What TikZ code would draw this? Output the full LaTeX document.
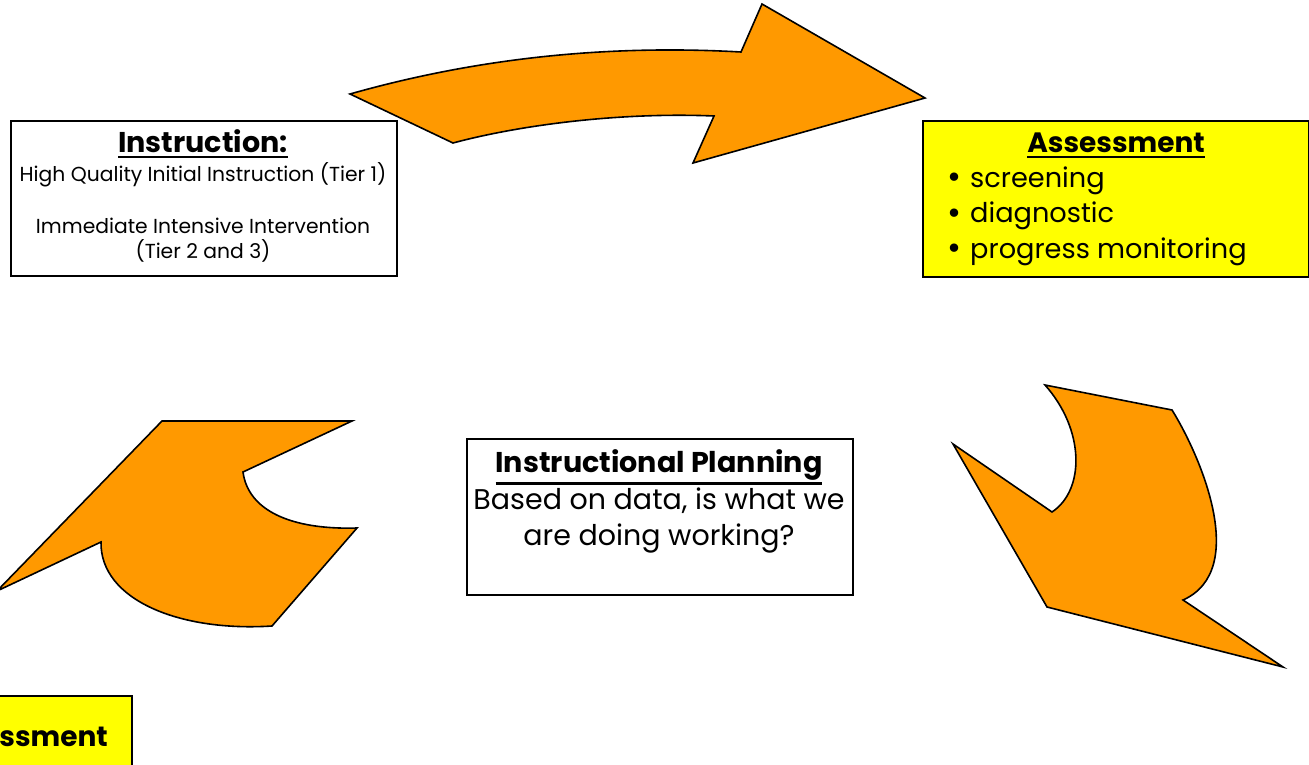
\documentclass[tikz,border=0pt]{standalone}
\usepackage{fontspec}
\setmainfont{Poppins}
\definecolor{arroworange}{HTML}{FF9900}
\definecolor{boxyellow}{HTML}{FFFF00}
\newcommand{\bigbullet}{{\fontsize{34}{34}\selectfont\raisebox{-1.5pt}{\textbullet}}}
\newcommand{\myul}[1]{\leavevmode\vtop{\hbox{#1}\kern2.5pt\hrule height 2.2pt}}
\begin{document}
\begin{tikzpicture}[x=1pt,y=-1pt,
  arrowshape/.style={fill=arroworange,draw=black,line width=1.6pt,line join=miter},
  box/.style={draw=black,line width=1.6pt,inner sep=0pt,anchor=north west},
  txt/.style={inner sep=0pt,anchor=base},
  smalltxt/.style={txt,font=\fontsize{20.3}{24}\selectfont},
  bigtxt/.style={txt,font=\fontsize{28.5}{32}\selectfont},
  titletxt/.style={txt,font=\fontsize{28.6}{32}\selectfont\bfseries}]
\useasboundingbox (0,0) rectangle (1309,765);
\clip (0,0) rectangle (1309,765);

% arrows
\draw[arrowshape] (350,94) .. controls (470,60) and (600,44) .. (741,52) -- (762,4) -- (925,98) -- (693,163) -- (714,116) .. controls (620,112) and (520,125) .. (453,143) -- cycle;
\draw[arrowshape] (1045,385) -- (1172,410) .. controls (1200,455) and (1250,570) .. (1183,600) -- (1283,667) -- (1047,607) -- (953,444) -- (1052,512) .. controls (1085,490) and (1085,430) .. (1045,385) -- cycle;
\draw[arrowshape] (162,421) -- (352,421) -- (243,472) .. controls (248,510) and (290,530) .. (357,528) -- (272,626) .. controls (180,632) and (100,600) .. (101,542) -- (-3,591) -- cycle;

% Instruction box
\node[box,minimum width=386pt,minimum height=155pt] (instr) at (10,120) {};
\node[titletxt] (instrT) at (203,153) {\myul{Instruction:}};
\node[smalltxt] (instr1) at (203,181) {High Quality Initial Instruction (Tier 1)};
\node[smalltxt] (instr2) at (203,233) {Immediate Intensive Intervention};
\node[smalltxt] (instr3) at (203,258) {(Tier 2 and 3)};

% Assessment box
\node[box,fill=boxyellow,minimum width=386pt,minimum height=156pt] (assess) at (922,120) {};
\node[titletxt,font=\fontsize{28}{32}\selectfont\bfseries] (assessT) at (1116,153) {\myul{Assessment}};
\node[bigtxt,anchor=base west,font=\fontsize{27.2}{32}\selectfont] (a1) at (947,187) {\bigbullet\hspace{9pt}screening};
\node[bigtxt,anchor=base west,font=\fontsize{27.2}{32}\selectfont] (a2) at (947,222.5) {\bigbullet\hspace{9pt}diagnostic};
\node[bigtxt,anchor=base west,font=\fontsize{27.2}{32}\selectfont] (a3) at (947,258) {\bigbullet\hspace{9pt}progress monitoring};

% Planning box
\node[box,minimum width=386pt,minimum height=156pt] (plan) at (466,438) {};
\node[titletxt] (planT) at (659,472) {\myul{Instructional Planning}};
\node[bigtxt] (plan1) at (659,509) {Based on data, is what we};
\node[bigtxt] (plan2) at (659,545) {are doing working?};

% partial Assessment box bottom-left
\node[box,fill=boxyellow,minimum width=150pt,minimum height=90pt] (assess2) at (-19,695) {};
\node[titletxt,anchor=base east,font=\fontsize{28}{32}\selectfont\bfseries] (assess2T) at (108,746) {Assessment};
\end{tikzpicture}
\end{document}
